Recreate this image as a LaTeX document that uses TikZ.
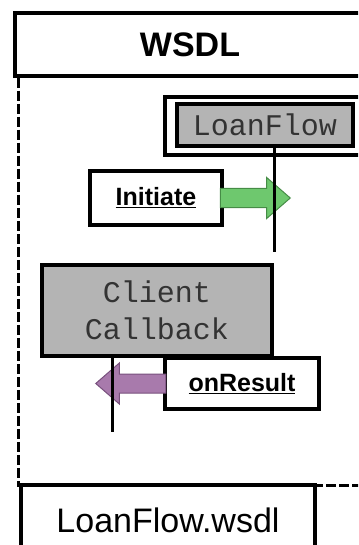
\documentclass[tikz,border=0pt]{standalone}
\usepackage{fontspec}
\setmainfont{Liberation Sans}
\setmonofont{Liberation Mono}
\usetikzlibrary{positioning,shapes,arrows}

\definecolor{boxgray}{RGB}{180,180,180}
\definecolor{initgreen}{RGB}{110,200,110}
\definecolor{initedge}{RGB}{70,140,70}
\definecolor{resultpurple}{RGB}{168,122,172}
\definecolor{resultedge}{RGB}{120,80,125}

\begin{document}
\begin{tikzpicture}[
		x=1pt,y=-1pt,
		line width=3.5pt,
		framebox/.style={draw,rectangle,inner sep=0pt,font=\fontsize{34}{40}\selectfont},
		classbox/.style={draw,rectangle,fill=boxgray,inner sep=0pt,align=center,text=black!80,font=\ttfamily\fontsize{30}{37}\selectfont},
		msgbox/.style={draw,rectangle,inner sep=0pt,font=\bfseries\fontsize{25}{30}\selectfont},
		lifeline/.style={line width=3pt},
		frameline/.style={line width=3pt,dash pattern=on 10pt off 3pt},
		msgarrow/.style={single arrow,draw,line width=1pt,inner sep=9pt,minimum height=70pt,single arrow head extend=11pt,single arrow tip angle=82,anchor=tail}
		]
		\clip (0,0) rectangle (358,545);
		\node[framebox,minimum width=350pt,minimum height=63pt,font=\bfseries\fontsize{34}{40}\selectfont] (wsdl) at (190,44.5) {WSDL};
		\node[draw,rectangle,minimum width=210pt,minimum height=58pt] (loanouter) at (270,126) {};
		\node[classbox,minimum width=176pt,minimum height=42pt] (loanflow) at (265,125) {LoanFlow};
		\node[msgbox,minimum width=132pt,minimum height=54pt] (initiate) at (156,198) {\underline{Initiate}};
		\node[classbox,minimum width=230pt,minimum height=91pt] (client) at (157,310.5) {Client\\Callback};
		\node[msgbox,minimum width=154pt,minimum height=51pt] (onresult) at (242,383.5) {\underline{onResult}};
		\node[framebox,minimum width=294pt,minimum height=70pt] (wsdlfile) at (168,520) {LoanFlow.wsdl};
		% message arrows
		\node[msgarrow,fill=initgreen,draw=initedge] (initarrow) at ([xshift=-4pt]initiate.east) {};
		\node[msgarrow,fill=resultpurple,draw=resultedge,shape border rotate=180] (resultarrow) at ([xshift=3pt]onresult.west) {};
		% lifelines
		\coordinate (loanlife) at (274,252);
		\coordinate (clientlife) at (112,432);
		\path
		(loanflow.south -| loanlife) edge[lifeline] (loanlife)
		(client.south -| clientlife) edge[lifeline] (clientlife);
		% frame
		\coordinate (framecorner) at (18.5,485);
		\draw[frameline] (wsdl.south west -| framecorner) -- (framecorner) -- (362,485);
	\end{tikzpicture}
\end{document}
